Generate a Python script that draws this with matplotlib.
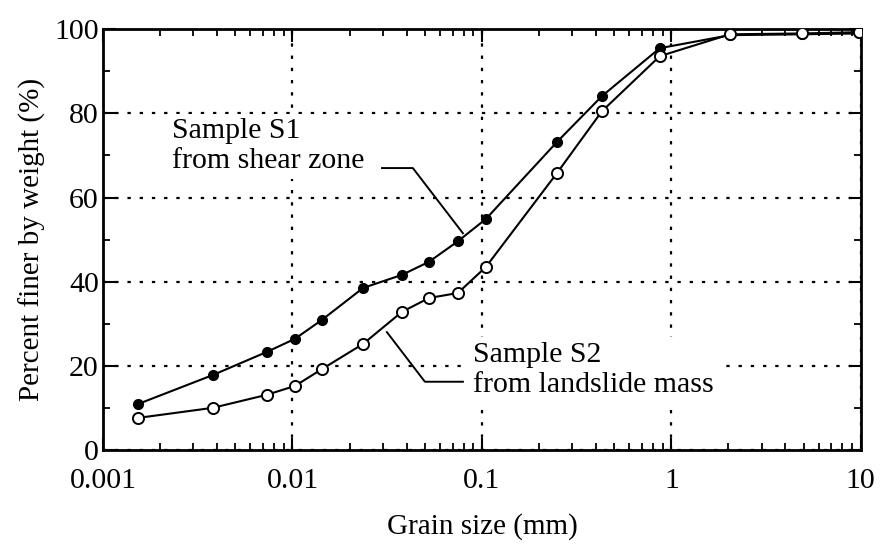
import matplotlib
matplotlib.use("Agg")
import matplotlib.pyplot as plt
from matplotlib.ticker import LogLocator, FixedLocator, NullFormatter

# grain size (mm) and percent finer for the two samples
grain_size = [0.00153, 0.0038, 0.00733, 0.0103, 0.0143, 0.0236, 0.0378,
              0.0525, 0.0747, 0.105, 0.249, 0.430, 0.869, 2.04, 4.88, 9.76]
s1_finer = [10.9, 17.8, 23.3, 26.4, 30.9, 38.5, 41.6, 44.7, 49.6, 54.9,
            73.2, 84.1, 95.5, 98.6, 98.8, 99.0]
s2_finer = [7.6, 10.0, 13.1, 15.2, 19.2, 25.2, 32.8, 36.1, 37.3, 43.5,
            65.8, 80.5, 93.6, 98.8, 99.0, 99.3]

x_ticks = [0.001, 0.01, 0.1, 1, 10]
x_tick_labels = ["0.001", "0.01", "0.1", "1", "10"]
y_ticks = [0, 20, 40, 60, 80, 100]

plt.rcParams['font.family'] = ['Liberation Serif', 'DejaVu Serif']

fig = plt.figure(figsize=(8.81, 5.52), dpi=100)
ax = fig.add_axes([0.117, 0.185, 0.860, 0.762])

#grid first so the curves sit on top
ax.set_xscale('log')
ax.set_xlim(0.001, 10)
ax.set_ylim(0, 100)
ax.grid(True, which='major', color='black', linestyle=(0, (1.5, 4)),
        linewidth=1.6)

ax.plot(grain_size, s1_finer, color='black', linewidth=1.5, marker='o',
        markersize=7, markerfacecolor='black', markeredgecolor='black',
        zorder=3)
ax.plot(grain_size, s2_finer, color='black', linewidth=1.5, marker='o',
        markersize=8, markerfacecolor='white', markeredgecolor='black',
        markeredgewidth=1.4, zorder=4)

#ticks
ax.xaxis.set_major_locator(FixedLocator(x_ticks))
ax.set_xticklabels(x_tick_labels)
ax.xaxis.set_minor_locator(LogLocator(base=10, subs=range(2, 10)))
ax.xaxis.set_minor_formatter(NullFormatter())
ax.set_yticks(y_ticks)
ax.yaxis.set_minor_locator(FixedLocator(range(10, 100, 20)))
ax.tick_params(which='major', direction='in', length=9, width=1.5,
               top=True, right=True, labelsize=21.5)
ax.tick_params(axis='x', which='major', pad=13)
ax.tick_params(axis='y', which='major', pad=3)
ax.tick_params(which='minor', direction='in', length=5, width=1.3,
               top=True, right=True)
for spine in ax.spines.values():
    spine.set_linewidth(2)

ax.set_xlabel("Grain size (mm)", fontsize=21, labelpad=14)
ax.set_ylabel("Percent finer by weight (%)", fontsize=21, labelpad=6)

#labels with leader lines, white box hides the grid behind them
box = dict(boxstyle='square,pad=0.15', facecolor='white', edgecolor='none')
ax.text(0.00231, 67.0, "Sample S1\nfrom shear zone", fontsize=21.5,
        va='baseline', ha='left', linespacing=1.2, bbox=box, zorder=2.5)
ax.plot([0.0297, 0.0432, 0.0794], [67.0, 67.0, 51.5], color='black',
        linewidth=1.4, zorder=2)

ax.text(0.0897, 13.8, "Sample S2\nfrom landslide mass", fontsize=21.5,
        va='baseline', ha='left', linespacing=1.2, bbox=box, zorder=2.5)
ax.plot([0.0315, 0.05, 0.0794], [28.0, 16.2, 16.2], color='black',
        linewidth=1.4, zorder=2)

fig.savefig("out.png", dpi=100)
